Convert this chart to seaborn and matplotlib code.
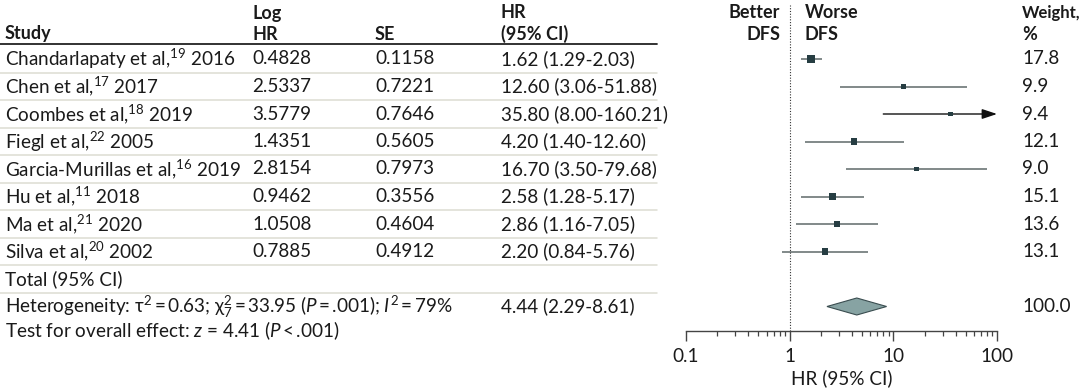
import matplotlib
matplotlib.use("Agg")
import matplotlib.pyplot as plt
from matplotlib.transforms import blended_transform_factory
from matplotlib.lines import Line2D
from matplotlib.ticker import LogLocator, FixedLocator, NullFormatter
import seaborn as sns
import pandas as pd
import numpy as np

# ---------------- data ----------------
authors = ["Chandarlapaty et al,", "Chen et al,", "Coombes et al,", "Fiegl et al,",
           "Garcia-Murillas et al,", "Hu et al,", "Ma et al,", "Silva et al,"]
refs = ["19", "17", "18", "22", "16", "11", "21", "20"]
years = ["2016", "2017", "2019", "2005", "2019", "2018", "2020", "2002"]
log_hr = ["0.4828", "2.5337", "3.5779", "1.4351", "2.8154", "0.9462", "1.0508", "0.7885"]
se = ["0.1158", "0.7221", "0.7646", "0.5605", "0.7973", "0.3556", "0.4604", "0.4912"]
hr = [1.62, 12.60, 35.80, 4.20, 16.70, 2.58, 2.86, 2.20]
ci_lo = [1.29, 3.06, 8.00, 1.40, 3.50, 1.28, 1.16, 0.84]
ci_hi = [2.03, 51.88, 160.21, 12.60, 79.68, 5.17, 7.05, 5.76]
hr_text = ["1.62 (1.29-2.03)", "12.60 (3.06-51.88)", "35.80 (8.00-160.21)",
           "4.20 (1.40-12.60)", "16.70 (3.50-79.68)", "2.58 (1.28-5.17)",
           "2.86 (1.16-7.05)", "2.20 (0.84-5.76)"]
weights = [17.8, 9.9, 9.4, 12.1, 9.0, 15.1, 13.6, 13.1]
pooled_hr = 4.44
pooled_lo = 2.29
pooled_hi = 8.61
pooled_text = "4.44 (2.29-8.61)"
pooled_weight = "100.0"
x_ticks = [0.1, 1, 10, 100]
x_ticklabels = ["0.1", "1", "10", "100"]

# ---------------- style ----------------
sns.set_style("white")
FAM = ["Lato", "DejaVu Sans"]
plt.rcParams["font.family"] = FAM
plt.rcParams["mathtext.fontset"] = "custom"
plt.rcParams["mathtext.rm"] = "Lato"
plt.rcParams["mathtext.it"] = "Lato:italic"
FS = 13.6
HFS = 13
TXT = "#1a1a1a"
TS = "\u2009"

W, H = 1080, 388
fig = plt.figure(figsize=(W / 100, H / 100), dpi=100)
x0, x1 = 686, 997
ax_bottom = 331
ax = fig.add_axes([x0 / W, (H - ax_bottom) / H, (x1 - x0) / W, ax_bottom / H])
ax.set_xscale("log")
ax.set_xlim(0.1, 100)
ax.set_ylim(ax_bottom, 0)

n = len(authors)
row_y = [59 + i * 27.5 for i in range(n)]
total_y = 59 + n * 27.5
het_y = total_y + 27.5
test_y = het_y + 24

df = pd.DataFrame({"hr": hr, "lo": ci_lo, "hi": ci_hi, "w": weights, "y": row_y})

# CI lines
line_col = "#5f6a6a"
for _, r in df.iterrows():
    if r["hi"] > 100:
        ax.annotate("", xy=(100, r["y"]), xytext=(r["lo"], r["y"]),
                    arrowprops=dict(arrowstyle="-|>,head_length=0.9,head_width=0.3",
                                    color="#111111", lw=1.0, shrinkA=0, shrinkB=0),
                    annotation_clip=False)
    else:
        ax.hlines(r["y"], r["lo"], r["hi"], color=line_col, lw=1.1)

sns.scatterplot(data=df, x="hr", y="y", size="w", sizes=(11, 34), size_norm=(9, 18),
                marker="s", color="#263d42", edgecolor="none", legend=False, ax=ax, zorder=3)

# diamond
half = 8.5
ax.fill([pooled_lo, pooled_hr, pooled_hi, pooled_hr],
        [het_y, het_y - half, het_y, het_y + half],
        facecolor="#87a3a3", edgecolor="#3a4d50", lw=0.8, zorder=3)

# null line
ax.axvline(1, ymin=0, ymax=1 - 5 / ax_bottom, color="#333333", lw=0.8, ls=(0, (1, 1.5)))

# axes styling
for s in ["left", "top", "right"]:
    ax.spines[s].set_visible(False)
ax.spines["bottom"].set_color("#444444")
ax.spines["bottom"].set_linewidth(1.0)
ax.set_yticks([])
ax.xaxis.set_major_locator(FixedLocator(x_ticks))
ax.set_xticklabels(x_ticklabels)
ax.xaxis.set_minor_locator(LogLocator(base=10, subs=np.arange(2, 10)))
ax.xaxis.set_minor_formatter(NullFormatter())
ax.tick_params(axis="x", which="both", bottom=True)
ax.tick_params(axis="x", which="major", direction="out", length=7, width=1, color="#444444",
               labelsize=FS, labelcolor=TXT, pad=5)
ax.tick_params(axis="x", which="minor", direction="out", length=3.5, width=0.9, color="#444444")
ax.set_xlabel("HR (95% CI)", fontsize=FS, color=TXT, labelpad=3)
ax.set_ylabel("")

# ---------------- table text ----------------
tr = blended_transform_factory(fig.transFigure, ax.transData)
def T(xpx, y, s, ha="left", size=FS, **kw):
    ax.text(xpx / W, y, s, transform=tr, ha=ha, va="center", fontsize=size, color=TXT,
            clip_on=False, **kw)

h1, h2 = 13, 34
T(5, h2, "Study", size=HFS, fontweight="bold")
T(252, h1, "Log", size=HFS, fontweight="bold")
T(252, h2, "HR", size=HFS, fontweight="bold")
T(375, h2, "SE", size=HFS, fontweight="bold")
T(501, h1, "HR", size=HFS, fontweight="bold")
T(501, h2, "(95% CI)", size=HFS, fontweight="bold")
T(780, h1, "Better", ha="right", size=HFS, fontweight="bold")
T(780, h2, "DFS", ha="right", size=HFS, fontweight="bold")
T(805, h1, "Worse", size=HFS, fontweight="bold")
T(805, h2, "DFS", size=HFS, fontweight="bold")
T(1022, h1, "Weight,", size=12, fontweight="bold")
T(1022, h2, "%", size=HFS, fontweight="bold")

for i in range(n):
    y = row_y[i]
    T(5, y, f"{authors[i]}$^{{{refs[i]}}}$ {years[i]}")
    T(252, y, log_hr[i])
    T(375, y, se[i])
    T(501, y, hr_text[i])
    T(1022, y, f"{weights[i]:.1f}")

T(5, total_y, "Total (95% CI)")
T(5, het_y, f"Heterogeneity: τ$^{{2}}${TS}={TS}0.63; χ$^{{2}}_{{7}}${TS}={TS}33.95 ($P${TS}={TS}.001); "
            f"$I^{{2}}${TS}={TS}79%")
T(501, het_y, pooled_text)
T(1022, het_y, pooled_weight)
T(5, test_y, f"Test for overall effect: $z$ = 4.41 ($P${TS}<{TS}.001)")

# separators
fig.add_artist(Line2D([0, 657 / W], [44, 44], transform=tr, color="#222222", lw=1.3))
for k in range(n + 1):
    ys = row_y[0] + 13.75 + k * 27.5
    fig.add_artist(Line2D([0, 657 / W], [ys, ys], transform=tr, color="#dcdcd2", lw=1.1))

fig.savefig("out.png", dpi=100)
